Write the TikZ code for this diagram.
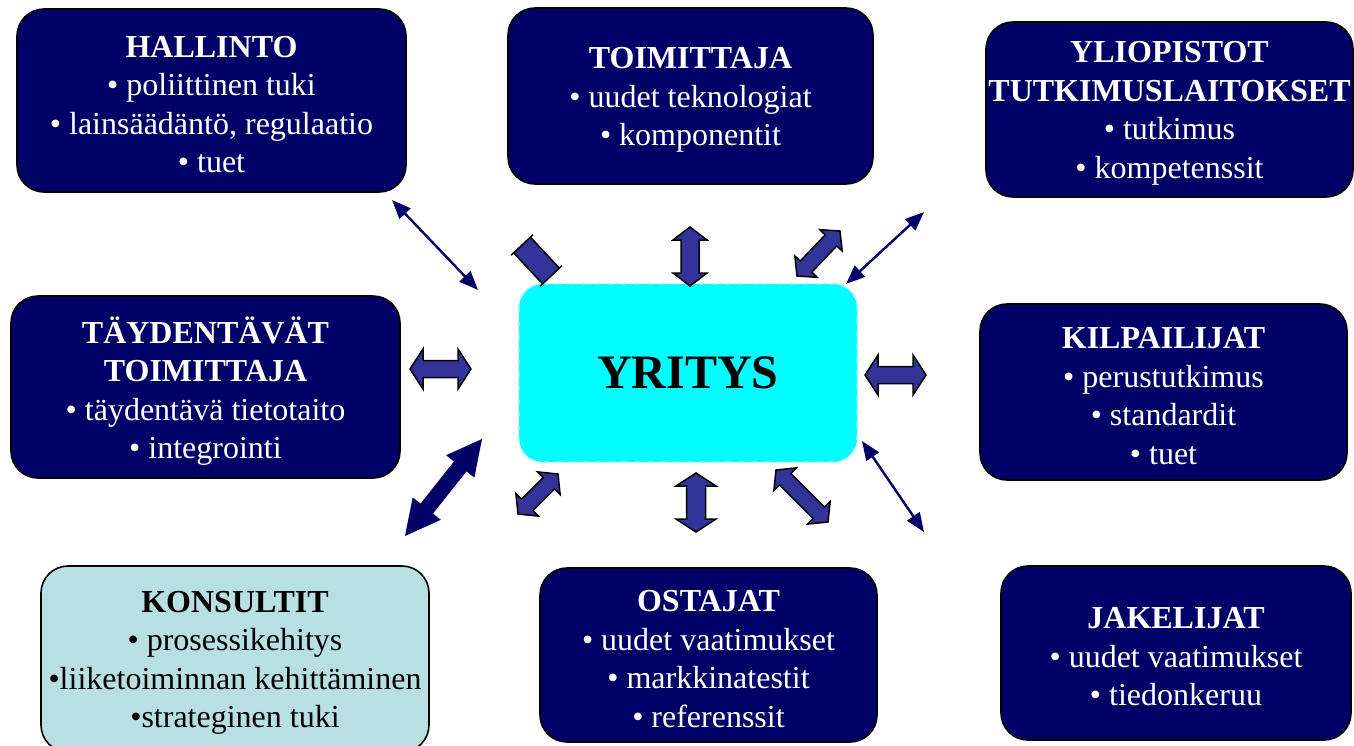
\documentclass[tikz,border=0pt]{standalone}
\usepackage{fontspec}
\setmainfont{Liberation Serif}
\usetikzlibrary{calc,arrows.meta}

\definecolor{navybox}{HTML}{000066}
\definecolor{arrowblue}{HTML}{333399}
\definecolor{consultfill}{HTML}{B8DFE2}
\definecolor{corecyan}{HTML}{00FFFF}

\tikzset{
  infobox/.style={rectangle, rounded corners=27pt, draw=black, line width=1.6pt,
    fill=navybox, inner sep=0pt},
  lightbox/.style={infobox, fill=consultfill},
  boxtext/.style={align=center, inner sep=0pt, text=white, yshift=-4pt,
    font=\fontsize{32}{38.5}\selectfont},
  darktext/.style={boxtext, text=black},
  corebox/.style={rectangle, rounded corners=24pt, fill=corecyan, inner sep=0pt,
    font=\fontsize{48}{56}\selectfont\bfseries},
  thinlink/.style={draw=navybox, line width=2.4pt,
    {Triangle[length=19pt,width=15pt]}-{Triangle[length=19pt,width=15pt]}},
  blockarrow/.style={fill=arrowblue, draw=black, line width=1.5pt, line join=miter},
  heavyarrow/.style={fill=navybox, draw=none}
}

% Double-headed block arrow between two points:
% #1 style, #2 tip A, #3 tip B, #4 shaft half width, #5 head half width, #6 head length
\newcommand\dblblock[6][blockarrow]{%
  \coordinate (ba-p) at ($(#2)!#6!(#3)$);
  \coordinate (ba-q) at ($(#3)!#6!(#2)$);
  \path[#1] (#2) -- ($(ba-p)!#5!90:(#3)$) -- ($(ba-p)!#4!90:(#3)$)
    -- ($(ba-q)!#4!-90:(#2)$) -- ($(ba-q)!#5!-90:(#2)$) -- (#3)
    -- ($(ba-q)!#5!90:(#2)$) -- ($(ba-q)!#4!90:(#2)$)
    -- ($(ba-p)!#4!-90:(#3)$) -- ($(ba-p)!#5!-90:(#3)$) -- cycle;
}

\begin{document}
\begin{tikzpicture}[x=1pt, y=-1pt]
\useasboundingbox (0,0) rectangle (1354,745);
\clip (0,0) rectangle (1354,745);
\fill[white] (0,0) rectangle (1354,745);

% partner boxes
\node[infobox, minimum width=389pt, minimum height=183pt] (hal) at (211.5,100.5) {};
\node[boxtext] (hal-t) at (hal)
  {\textbf{HALLINTO}\\ • poliittinen tuki\\ • lainsäädäntö, regulaatio\\ • tuet};

\node[infobox, minimum width=365pt, minimum height=176pt] (toi) at (690.5,96) {};
\node[boxtext] (toi-t) at (toi)
  {\textbf{TOIMITTAJA}\\ • uudet teknologiat\\ • komponentit};

\node[infobox, minimum width=367pt, minimum height=175pt] (yli) at (1169.5,109.5) {};
\node[boxtext] (yli-t) at (yli)
  {\textbf{YLIOPISTOT}\\ \textbf{TUTKIMUSLAITOKSET}\\ • tutkimus\\ • kompetenssit};

\node[infobox, minimum width=389pt, minimum height=182pt] (tay) at (205.5,387) {};
\node[boxtext] (tay-t) at (tay)
  {\textbf{TÄYDENTÄVÄT}\\ \textbf{TOIMITTAJA}\\ • täydentävä tietotaito\\ • integrointi};

\node[infobox, minimum width=367pt, minimum height=176pt] (kil) at (1163.5,392) {};
\node[boxtext] (kil-t) at (kil)
  {\textbf{KILPAILIJAT}\\ • perustutkimus\\ • standardit\\ • tuet};

\node[lightbox, minimum width=388pt, minimum height=186pt] (kon) at (235,659) {};
\node[darktext] (kon-t) at (kon)
  {\textbf{KONSULTIT}\\ • prosessikehitys\\ •liiketoiminnan kehittäminen\\ •strateginen tuki};

\node[infobox, minimum width=337pt, minimum height=174pt] (ost) at (708.5,655) {};
\node[boxtext] (ost-t) at (ost)
  {\textbf{OSTAJAT}\\ • uudet vaatimukset\\ • markkinatestit\\ • referenssit};

\node[infobox, minimum width=350pt, minimum height=174pt] (jak) at (1176,653) {};
\node[boxtext] (jak-t) at (jak)
  {\textbf{JAKELIJAT}\\ • uudet vaatimukset\\ • tiedonkeruu};

% the company in the middle
\node[corebox, minimum width=338pt, minimum height=178pt] (yri) at (688,373) {YRITYS};
\draw[white!60!corecyan, line width=1.6pt, rounded corners=24pt, dash pattern=on 5pt off 8pt]
  (yri.north west) rectangle (yri.south east);

% thin two-way links
\coordinate (hl-a) at (392,200);  \coordinate (hl-b) at (478,290);
\coordinate (yl-a) at (924,212);  \coordinate (yl-b) at (846,284);
\coordinate (kl-a) at (862,441);  \coordinate (kl-b) at (924,532);
\draw[thinlink] (hl-a) -- (hl-b);
\draw[thinlink] (yl-a) -- (yl-b);
\draw[thinlink] (kl-a) -- (kl-b);

% block arrows around the company
\coordinate (ha-a) at (522,245); \coordinate (ha-b) at (551,276);
\dblblock{ha-a}{ha-b}{11.5pt}{15pt}{0pt}

\coordinate (ta-a) at (690,227); \coordinate (ta-b) at (690,286);
\dblblock{ta-a}{ta-b}{9pt}{17pt}{13pt}

\coordinate (ya-a) at (797,276); \coordinate (ya-b) at (840,231);
\dblblock{ya-a}{ya-b}{8pt}{15.5pt}{13pt}

\coordinate (la-a) at (410,369); \coordinate (la-b) at (471,369);
\dblblock{la-a}{la-b}{8.5pt}{20pt}{13pt}

\coordinate (ra-a) at (865,375); \coordinate (ra-b) at (926,375);
\dblblock{ra-a}{ra-b}{8.5pt}{20pt}{13pt}

\coordinate (sa-a) at (558,474); \coordinate (sa-b) at (518,514);
\dblblock{sa-a}{sa-b}{8pt}{16pt}{13pt}

\coordinate (oa-a) at (696,473); \coordinate (oa-b) at (696,532);
\dblblock{oa-a}{oa-b}{9.5pt}{20pt}{13pt}

\coordinate (da-a) at (776,470); \coordinate (da-b) at (828,522);
\dblblock{da-a}{da-b}{8pt}{16pt}{13pt}

% heavy navy arrow towards the consultants
\coordinate (ka-a) at (482,439); \coordinate (ka-b) at (405,536);
\dblblock[heavyarrow]{ka-a}{ka-b}{8pt}{18pt}{35pt}

\end{tikzpicture}
\end{document}
